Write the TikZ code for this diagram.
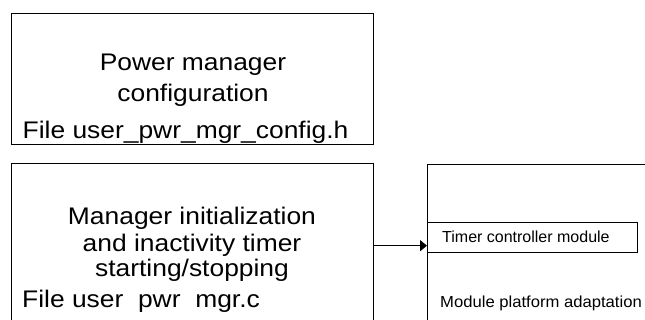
\documentclass[tikz,border=0pt]{standalone}
\usepackage{fontspec}
\setmainfont{Liberation Sans}
\newfontfamily\widefont[FakeStretch=1.1]{Liberation Sans}
\newfontfamily\looseSmall[FakeStretch=1.04]{Liberation Sans}
\usetikzlibrary{arrows.meta}
\tikzset{
  blk/.style={draw=black, line width=1.3pt, fill=none, inner sep=0pt, anchor=north west},
  bigtxt/.style={inner sep=0pt, font=\widefont\fontsize{24}{27}\selectfont},
  smalltxt/.style={inner sep=0pt, anchor=base west, font=\fontsize{16}{19}\selectfont},
  link/.style={line width=1.3pt, -{Triangle[length=7pt, width=11pt]}}
}
\begin{document}
\begin{tikzpicture}[x=1pt, y=-1pt]
  \useasboundingbox (0,0) rectangle (645,320);
  \clip (0,0) rectangle (645,320);

  % configuration header box
  \node[blk, minimum width=362pt, minimum height=131pt] (cfg) at (11,13) {};
  \node[bigtxt, anchor=base] (cfgA) at (193,71) {Power manager};
  \node[bigtxt, anchor=base] (cfgB) at (193,102) {configuration};
  \node[bigtxt, anchor=base west] (cfgF) at (22.5,139) {File user\_pwr\_mgr\_config.h};

  % manager source box
  \node[blk, minimum width=362pt, minimum height=200pt] (mgr) at (11,163) {};
  \node[bigtxt, anchor=base] (mgrA) at (192,225) {Manager initialization};
  \node[bigtxt, anchor=base] (mgrB) at (192,252) {and inactivity timer};
  \node[bigtxt, anchor=base] (mgrC) at (192,277) {starting/stopping};
  \node[bigtxt, anchor=base west] (mgrF) at (22,307) {File user\hphantom{\_}pwr\hphantom{\_}mgr.c};

  % platform adaptation box with timer controller
  \node[blk, minimum width=260pt, minimum height=200pt] (plat) at (427,164) {};
  \node[blk, minimum width=210pt, minimum height=30pt] (tmr) at (427,222) {};
  \node[smalltxt] (tmrT) at (442,243) {Timer controller module};
  \node[smalltxt, font=\looseSmall\fontsize{16}{19}\selectfont] (platT) at (440,308) {Module platform adaptation};

  % call from the manager into the timer module
  \coordinate (callY) at (0,245.7);
  \draw[link] (mgr.east |- callY) -- (plat.west |- callY);
\end{tikzpicture}
\end{document}
